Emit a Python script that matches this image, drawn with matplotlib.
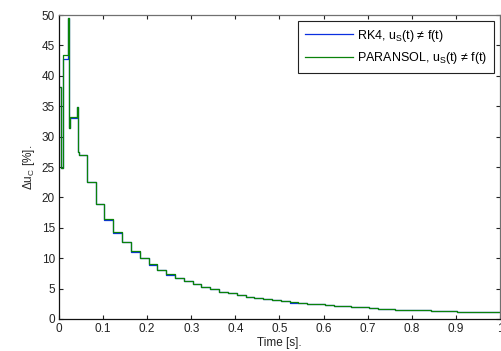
import matplotlib
matplotlib.use("Agg")
import matplotlib.pyplot as plt

plt.rcParams['font.family'] = ['Liberation Sans', 'DejaVu Sans']
plt.rcParams['mathtext.fontset'] = 'custom'
plt.rcParams['mathtext.rm'] = 'Liberation Sans'
plt.rcParams['mathtext.it'] = 'Liberation Sans'
plt.rcParams['mathtext.default'] = 'rm'

# step-wise data (value held from each time until the next one)
t_green = [0.0, 0.004, 0.009, 0.021, 0.0225, 0.025, 0.041, 0.0425, 0.045,
           0.063, 0.083, 0.103, 0.123, 0.143, 0.163, 0.183, 0.203, 0.223,
           0.243, 0.263, 0.283, 0.303, 0.323, 0.343, 0.363, 0.383, 0.403,
           0.423, 0.443, 0.463, 0.483, 0.503, 0.523, 0.543, 0.563, 0.583,
           0.603, 0.623, 0.643, 0.663, 0.683, 0.703, 0.723, 0.743, 0.763,
           0.783, 0.803, 0.823, 0.843, 0.863, 0.883, 0.903, 0.923, 0.943,
           0.963, 0.983, 1.0]
v_green = [38.2, 24.8, 43.4, 49.5, 31.5, 33.3, 34.9, 27.5, 26.9,
           22.6, 19.0, 16.4, 14.3, 12.6, 11.2, 10.0, 9.0, 8.1,
           7.4, 6.8, 6.3, 5.8, 5.3, 4.9, 4.5, 4.2, 3.9,
           3.7, 3.5, 3.3, 3.1, 2.9, 2.75, 2.6, 2.5, 2.4,
           2.3, 2.2, 2.1, 2.0, 1.9, 1.8, 1.7, 1.65, 1.55,
           1.5, 1.45, 1.4, 1.35, 1.3, 1.25, 1.2, 1.15, 1.12,
           1.1, 1.07, 1.07]

t_blue = t_green
v_blue = [38.2, 24.8, 42.7, 49.5, 31.5, 33.0, 34.9, 27.5, 27.0,
          22.5, 18.9, 16.3, 14.2, 12.6, 11.1, 10.0, 8.9, 8.1,
          7.3, 6.8, 6.2, 5.8, 5.2, 4.9, 4.4, 4.2, 3.9,
          3.6, 3.5, 3.3, 3.1, 2.9, 2.7, 2.6, 2.5, 2.4,
          2.3, 2.15, 2.1, 2.0, 1.9, 1.8, 1.7, 1.65, 1.55,
          1.5, 1.45, 1.4, 1.35, 1.3, 1.25, 1.2, 1.15, 1.12,
          1.1, 1.07, 1.07]

x_ticks = [0, 0.1, 0.2, 0.3, 0.4, 0.5, 0.6, 0.7, 0.8, 0.9, 1]
x_tick_labels = ['0', '0.1', '0.2', '0.3', '0.4', '0.5', '0.6', '0.7', '0.8', '0.9', '1']
y_ticks = [0, 5, 10, 15, 20, 25, 30, 35, 40, 45, 50]

fig = plt.figure(figsize=(5.02, 3.51), dpi=100)
ax = fig.add_axes([0.1175, 0.0912, 0.8785, 0.8658])

ax.plot(t_blue, v_blue, drawstyle='steps-post', color='#0a2fe0', lw=0.9,
        label=r'RK4, u$_{\rm S}$(t) ≠ f(t)')
ax.plot(t_green, v_green, drawstyle='steps-post', color='#0a820a', lw=0.9,
        label=r'PARANSOL, u$_{\rm S}$(t) ≠ f(t)')

ax.set_xlim(0, 1)
ax.set_ylim(0, 50)
ax.set_xticks(x_ticks)
ax.set_xticklabels(x_tick_labels)
ax.set_yticks(y_ticks)
ax.tick_params(direction='in', length=3, width=0.8, top=True, right=True,
               labelsize=8.5, colors='#222222', pad=3)
for s in ['left', 'bottom']:
    ax.spines[s].set_color('#111111')
for s in ['top', 'right']:
    ax.spines[s].set_color('#707070')
for s in ax.spines.values():
    s.set_linewidth(0.9)

ax.set_xlabel('Time [s].', fontsize=8.5, color='#222222', labelpad=1)
ax.set_ylabel(r'Δu$_{\rm C}$ [%].', fontsize=8.5, color='#222222', labelpad=3)

leg = ax.legend(loc='upper right', fontsize=9, fancybox=False, frameon=True,
                edgecolor='#222222', framealpha=1, handlelength=3.9,
                borderaxespad=0.5, labelspacing=0.55, borderpad=0.5,
                handletextpad=0.3)
leg.get_frame().set_linewidth(0.8)

fig.savefig('out.png', dpi=100)
